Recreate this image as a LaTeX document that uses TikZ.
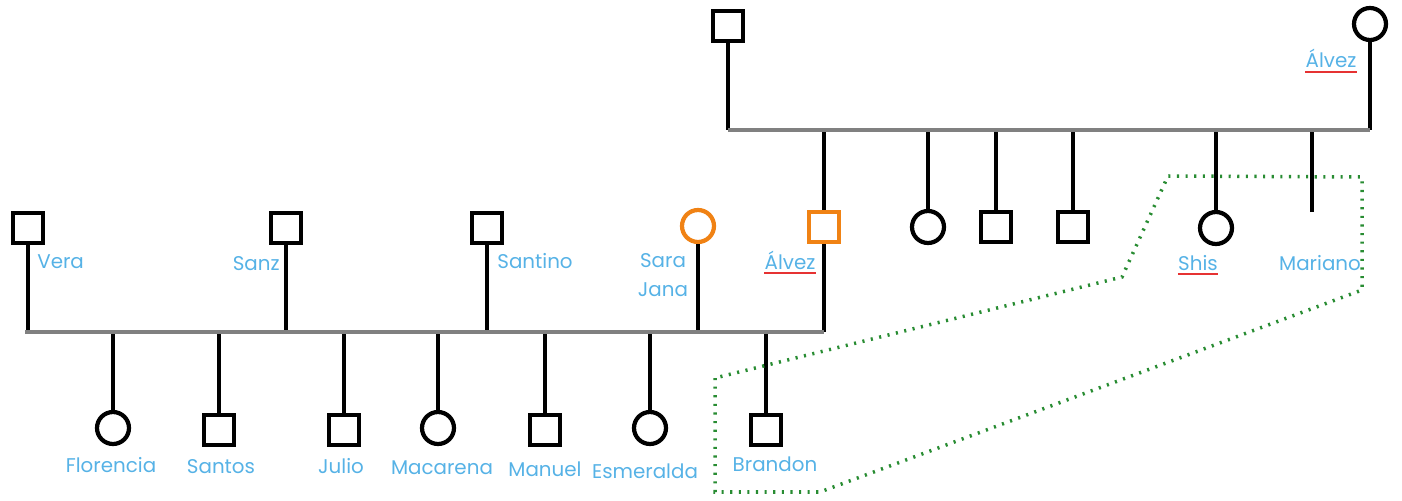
\documentclass[tikz,border=0pt]{standalone}
\usepackage{fontspec}
\setmainfont{Poppins}
\usetikzlibrary{positioning}

\begin{document}
\begin{tikzpicture}[
    x=0.02cm, y=-0.02cm,
    male/.style={
    	draw, rectangle,
    	minimum size=0.6cm,
    	line width=2.4pt, inner sep=0pt
    }, female/.style={
    	draw, circle,
    	minimum size=0.64cm,
    	line width=2.4pt, inner sep=0pt
    }, pname/.style={
    	text=name-blue, anchor=base, inner sep=0pt,
    	font=\fontsize{11.3}{13}\selectfont
    }, link/.style={
    	line width=2.3pt
    }, gen/.style={
    	line width=2.8pt, draw=gen-gray
    }, uline/.style={
    	line width=1.1pt, draw=uline-red
    }]
    \definecolor{name-blue}{RGB}{86, 178, 230}
    \definecolor{gen-gray}{RGB}{128, 128, 128}
    \definecolor{my-orange}{RGB}{240, 130, 20}
    \definecolor{uline-red}{RGB}{230, 50, 50}
    \definecolor{my-green}{RGB}{40, 140, 50}

    \useasboundingbox (0,0) rectangle (1402,500);

    %%% upper family
    \node[male] (grandpa) at (728,26) {};
    \node[female] (grandma) at (1370,24) {};
    \coordinate (up-l) at (728,130);
    \coordinate (up-r) at (1370,130);

    \node[male, draw=my-orange] (alvez-m) at (824,227) {};
    \node[female] (sib1) at (928,227) {};
    \node[male] (sib2) at (996,227) {};
    \node[male] (sib3) at (1073,227) {};
    \node[female] (shis) at (1216,228) {};
    \coordinate (mariano) at (1312,212);

    \node[pname] (alvez-f-txt) at (1331,68) {Álvez};
    \node[pname] (alvez-m-txt) at (790,269) {Álvez};
    \node[pname] (shis-txt) at (1198,270) {Shis};
    \node[pname] (mariano-txt) at (1320,270) {Mariano};

    %%% lower family
    \node[male] (vera) at (28,228) {};
    \node[male] (sanz) at (286,228) {};
    \node[male] (santino) at (487,228) {};
    \node[female, draw=my-orange] (sara) at (698,226) {};
    \coordinate (low-l) at (25,332);
    \coordinate (low-r) at (824,332);

    \node[female] (florencia) at (113,428) {};
    \node[male] (santos) at (219,430) {};
    \node[male] (julio) at (344,430) {};
    \node[female] (macarena) at (438,428) {};
    \node[male] (manuel) at (545,430) {};
    \node[female] (esmeralda) at (650,428) {};
    \node[male] (brandon) at (766,430) {};

    \node[pname, anchor=base west] (vera-txt) at (37,268) {Vera};
    \node[pname, anchor=base east] (sanz-txt) at (280,270) {Sanz};
    \node[pname, anchor=base west] (santino-txt) at (497,268) {Santino};
    \node[pname] (sara-txt) at (663,267) {Sara};
    \node[pname] (jana-txt) at (663,296) {Jana};

    \node[pname] (florencia-txt) at (111,472) {Florencia};
    \node[pname] (santos-txt) at (221,473) {Santos};
    \node[pname] (julio-txt) at (341,473) {Julio};
    \node[pname] (macarena-txt) at (442,474) {Macarena};
    \node[pname] (manuel-txt) at (545,476) {Manuel};
    \node[pname] (esmeralda-txt) at (645,478) {Esmeralda};
    \node[pname] (brandon-txt) at (775,471) {Brandon};

    %%% EDGES
    \draw[link] (grandpa) -- (grandpa |- up-l);
    \draw[link] (grandma) -- (grandma |- up-r);
    \draw[link] (alvez-m) -- (alvez-m |- up-l);
    \draw[link] (sib1) -- (sib1 |- up-l);
    \draw[link] (sib2) -- (sib2 |- up-l);
    \draw[link] (sib3) -- (sib3 |- up-l);
    \draw[link] (shis) -- (shis |- up-l);
    \draw[link] (mariano) -- (mariano |- up-l);
    \draw[gen] (up-l) -- (up-r);

    \draw[link] (vera) -- (vera |- low-l);
    \draw[link] (sanz) -- (sanz |- low-l);
    \draw[link] (santino) -- (santino |- low-l);
    \draw[link] (sara) -- (sara |- low-l);
    \draw[link] (alvez-m) -- (low-r);
    \draw[link] (florencia) -- (florencia |- low-l);
    \draw[link] (santos) -- (santos |- low-l);
    \draw[link] (julio) -- (julio |- low-l);
    \draw[link] (macarena) -- (macarena |- low-l);
    \draw[link] (manuel) -- (manuel |- low-l);
    \draw[link] (esmeralda) -- (esmeralda |- low-l);
    \draw[link] (brandon) -- (brandon |- low-l);
    \draw[gen] (low-l) -- (low-r);
    %%% EDGES

    %%% underlines
    \draw[uline] ([yshift=-2pt]alvez-f-txt.south west) -- ([yshift=-2pt]alvez-f-txt.south east);
    \draw[uline] ([yshift=-2pt]alvez-m-txt.south west) -- ([yshift=-2pt]alvez-m-txt.south east);
    \draw[uline] ([yshift=-2pt]shis-txt.south west) -- ([yshift=-2pt]shis-txt.south east);

    %%% dotted frame
    \draw[my-green, line width=2pt, dash pattern=on 1.2pt off 3.7pt]
    	(715,378) -- (715,492) -- (820,492) -- (1362,290) -- (1362,177)
    	-- (1168,176) -- (1122,277) -- cycle;

\end{tikzpicture}
\end{document}
